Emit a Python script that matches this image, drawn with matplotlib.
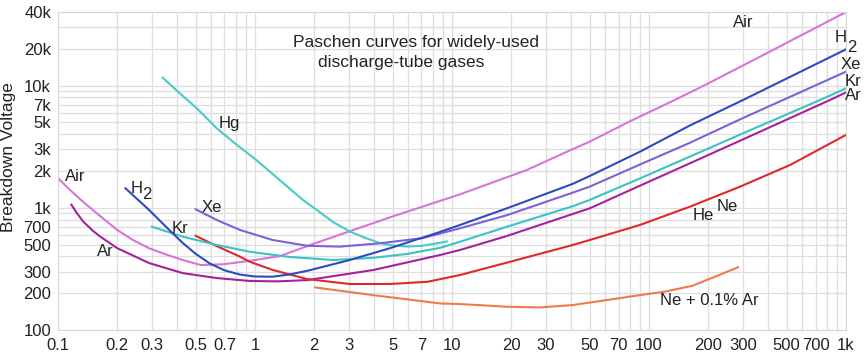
import matplotlib.pyplot as plt
from matplotlib.ticker import LogLocator, NullFormatter

plt.rcParams['font.family'] = ['Liberation Sans', 'DejaVu Sans']

# pd values (Torr*cm) and breakdown voltages
air_x = [0.1, 0.115, 0.134, 0.163, 0.2, 0.24, 0.29, 0.36, 0.43, 0.53, 0.69, 0.94, 1.34, 2, 3, 5, 11, 24,
         40, 50, 80, 135, 190, 340, 1000]
air_y = [1750, 1400, 1120, 860, 658, 545, 467, 411, 374, 340, 345, 368, 403, 510, 640, 850, 1290, 2040,
         2970, 3475, 5100, 7620, 10000, 16200, 40000]

ar_x = [0.117, 0.125, 0.134, 0.15, 0.163, 0.2, 0.29, 0.43, 0.64, 0.94, 1.3, 1.84, 4, 8.7, 11, 19, 41, 50,
        90, 161, 300, 829, 1000]
ar_y = [1060, 900, 775, 650, 585, 467, 353, 292, 266, 252, 250, 256, 310, 411, 452, 588, 890, 990,
        1517, 2310, 3630, 7620, 8800]

h2_x = [0.22, 0.29, 0.36, 0.43, 0.5, 0.59, 0.7, 0.84, 1.0, 1.23, 1.5, 1.84, 2.4, 3.03, 4.84, 8.7, 11, 19,
        41, 50, 90, 161, 300, 1000]
h2_y = [1445, 960, 679, 515, 420, 350, 308, 284, 274, 273, 285, 305, 340, 374, 467, 635, 724, 990,
        1570, 1820, 2880, 4710, 7620, 19800]

xe_x = [0.5, 0.64, 0.84, 1.23, 1.84, 2.7, 4.3, 7.1, 11, 19, 41, 50, 90, 161, 300, 1000]
xe_y = [972, 795, 658, 545, 489, 481, 512, 565, 680, 870, 1330, 1490, 2260, 3400, 5430, 13000]

kr_x = [0.3, 0.43, 0.64, 0.94, 1.5, 2.5, 4, 5.9, 8.7, 11, 19, 41, 50, 90, 161, 300, 738, 1000]
kr_y = [700, 580, 496, 437, 396, 374, 390, 419, 470, 528, 700, 1030, 1160, 1740, 2620, 4070, 7620, 9500]

hg_x = [0.34, 0.42, 0.5, 0.64, 0.8, 1.0, 1.3, 1.75, 2.06, 2.5, 3.03, 3.6, 4.3, 5, 5.9, 7, 8, 9.4]
hg_y = [11600, 8500, 6650, 4470, 3320, 2510, 1750, 1160, 960, 761, 640, 570, 515, 492, 482, 488, 505, 530]

ne_x = [0.5, 0.65, 0.84, 0.94, 1.23, 1.84, 3.03, 4.84, 7.5, 11, 19, 41, 50, 90, 161, 290, 520, 1000]
ne_y = [590, 480, 398, 362, 310, 261, 238, 238, 248, 282, 356, 496, 545, 724, 1020, 1490, 2240, 3950]

near_x = [2.02, 3.97, 8.7, 11, 19, 28, 41, 90, 120, 166, 221, 283]
near_y = [223, 193, 165, 163, 155, 153, 160, 193, 206, 230, 277, 326]

x_ticks = [0.1, 0.2, 0.3, 0.5, 0.7, 1, 2, 3, 5, 7, 10, 20, 30, 50, 70, 100, 200, 300, 500, 700, 1000]
x_labels = ['0.1', '0.2', '0.3', '0.5', '0.7', '1', '2', '3', '5', '7', '10', '20', '30', '50', '70',
            '100', '200', '300', '500', '700', '1k']
y_ticks = [100, 200, 300, 500, 700, 1000, 2000, 3000, 5000, 7000, 10000, 20000, 40000]
y_labels = ['100', '200', '300', '500', '700', '1k', '2k', '3k', '5k', '7k', '10k', '20k', '40k']

fig = plt.figure(figsize=(8.68, 3.57), dpi=100)
ax = fig.add_axes([0.0668, 0.0756, 0.9079, 0.8908])

curves = [
    (air_x, air_y, '#d874d8'),
    (ar_x, ar_y, '#a4229f'),
    (near_x, near_y, '#f07a4a'),
    (ne_x, ne_y, '#e0282a'),
    (hg_x, hg_y, '#48cbc4'),
    (kr_x, kr_y, '#3cc2c6'),
    (xe_x, xe_y, '#7a62d8'),
    (h2_x, h2_y, '#2c4cc0'),
]
for xs, ys, c in curves:
    ax.plot(xs, ys, color=c, lw=1.5)

ax.set_xscale('log')
ax.set_yscale('log')
ax.set_xlim(0.1, 1000)
ax.set_ylim(100, 40000)
ax.set_xticks(x_ticks, x_labels)
ax.set_yticks(y_ticks, y_labels)
ax.xaxis.set_minor_locator(LogLocator(base=10, subs=range(2, 10), numticks=30))
ax.yaxis.set_minor_locator(LogLocator(base=10, subs=range(2, 10), numticks=30))
ax.xaxis.set_minor_formatter(NullFormatter())
ax.yaxis.set_minor_formatter(NullFormatter())
ax.tick_params(which='both', length=0, labelsize=12, colors='#222222')
ax.tick_params(axis='x', pad=6)
ax.tick_params(axis='y', pad=5)
ax.grid(which='both', color='#dedede', lw=0.9)
ax.set_axisbelow(True)
for s in ax.spines.values():
    s.set_color('#d6d6d6')

ax.set_ylabel('Breakdown Voltage', fontsize=12.5, color='#222222')
ax.yaxis.set_label_coords(-0.053, 0.544)

ax.text(0.298, 0.903, 'Paschen curves for widely-used', transform=ax.transAxes,
        fontsize=12.5, ha='left', va='center', color='#222222')
ax.text(0.330, 0.840, 'discharge-tube gases', transform=ax.transAxes,
        fontsize=12.5, ha='left', va='center', color='#222222')

kw = dict(fontsize=12, ha='center', va='center', color='#222222')
ax.text(0.122, 1790, 'Air', **kw)
ax.text(0.173, 435, 'Ar', **kw)
ax.text(0.252, 1425, 'H', **kw)
ax.text(0.283, 1280, '2', **kw)
ax.text(0.416, 671, 'Kr', **kw)
ax.text(0.605, 1015, 'Xe', **kw)
ax.text(0.738, 4940, 'Hg', **kw)
ax.text(188, 857, 'He', **kw)
ax.text(250, 1030, 'Ne', **kw)
ax.text(114, 173, 'Ne + 0.1% Ar', fontsize=12, ha='left', va='center', color='#222222')
ax.text(300, 33100, 'Air', **kw)
ax.text(935, 24800, 'H', **kw)
ax.text(1068, 20600, '2', **kw)
ax.text(1060, 15000, 'Xe', **kw)
ax.text(1080, 10700, 'Kr', **kw)
ax.text(1085, 8220, 'Ar', **kw)

fig.savefig('out.png', dpi=100)
